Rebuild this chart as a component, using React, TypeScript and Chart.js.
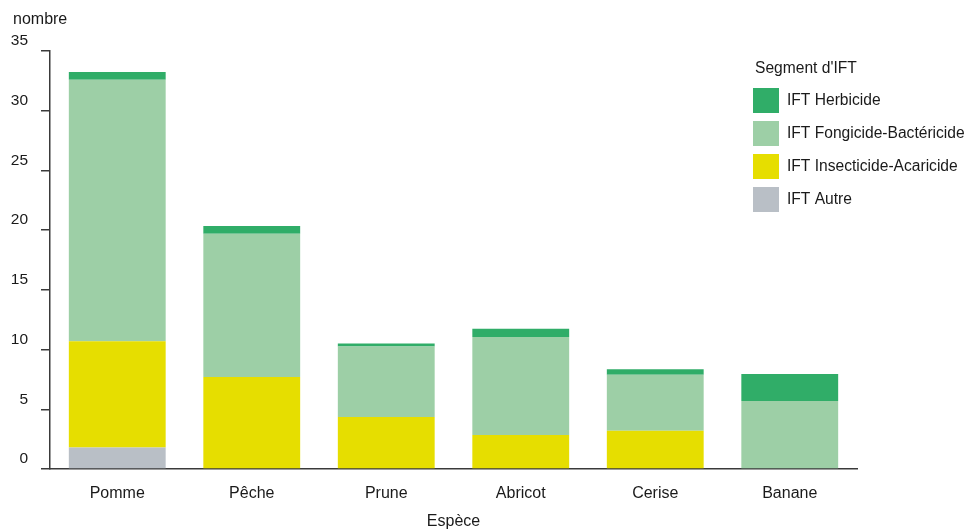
import React, { useEffect, useRef } from "react";
import { Chart, registerables } from "chart.js";

Chart.register(...registerables);

const categories = ["Pomme", "Pêche", "Prune", "Abricot", "Cerise", "Banane"];
const autre = [1.8, 0, 0, 0, 0, 0];
const insecticide = [8.9, 7.7, 4.35, 2.85, 3.2, 0];
const fongicide = [21.9, 12.0, 5.9, 8.2, 4.7, 5.7];
const herbicide = [0.65, 0.65, 0.25, 0.7, 0.45, 2.25];
const yTicks = [0, 5, 10, 15, 20, 25, 30, 35];

const legendTitle = "Segment d'IFT";
const seriesNames = {
  herbicide: "IFT Herbicide",
  fongicide: "IFT Fongicide-Bactéricide",
  insecticide: "IFT Insecticide-Acaricide",
  autre: "IFT Autre",
};
const colors = {
  herbicide: "#30ad68",
  fongicide: "#9dcfa6",
  insecticide: "#e6de00",
  autre: "#b9bfc6",
};

const FONT = "'Liberation Sans', Arial, sans-serif";
const TEXT = "#1a1a1a";

const customPlugin = {
  id: "customLegend",
  afterDraw(chart: any) {
    const ctx = chart.ctx;
    ctx.save();
    ctx.fillStyle = TEXT;
    ctx.textBaseline = "middle";
    ctx.textAlign = "left";
    ctx.font = `16px ${FONT}`;
    ctx.fillText("nombre", 13, 20);
    ctx.font = `15.6px ${FONT}`;
    ctx.fillText(legendTitle, 755, 69);
    const ds = chart.data.datasets.slice().reverse();
    ds.forEach((d: any, i: number) => {
      const y = 88 + i * 33;
      ctx.fillStyle = d.backgroundColor;
      ctx.fillRect(753, y, 26, 25);
      ctx.fillStyle = TEXT;
      ctx.fillText(d.label, 787, y + 12.5);
    });
    ctx.restore();
  },
};

export default function App() {
  const ref = useRef<HTMLCanvasElement | null>(null);
  useEffect(() => {
    if (!ref.current) return;
    const chart = new Chart(ref.current, {
      type: "bar",
      data: {
        labels: categories,
        datasets: [
          { label: seriesNames.autre, data: autre, backgroundColor: colors.autre },
          { label: seriesNames.insecticide, data: insecticide, backgroundColor: colors.insecticide },
          { label: seriesNames.fongicide, data: fongicide, backgroundColor: colors.fongicide },
          { label: seriesNames.herbicide, data: herbicide, backgroundColor: colors.herbicide },
        ],
      },
      options: {
        animation: false,
        responsive: true,
        maintainAspectRatio: false,
        layout: { padding: { top: 51, right: 111, left: 0, bottom: 0 } },
        plugins: { legend: { display: false }, tooltip: { enabled: false } },
        datasets: { bar: { categoryPercentage: 1, barPercentage: 0.72 } },
        scales: {
          x: {
            stacked: true,
            afterFit: (s: any) => { s.height = 62; },
            grid: { display: true, drawOnChartArea: false, drawTicks: false },
            border: { display: true, color: "#3a3a3a", width: 1.5 },
            ticks: { color: TEXT, font: { family: FONT, size: 16 }, padding: 15 },
            title: {
              display: true,
              text: "Espèce",
              color: TEXT,
              font: { family: FONT, size: 16 },
              padding: { top: 0, bottom: 0 },
            },
          },
          y: {
            stacked: true,
            min: 0,
            max: 35,
            afterFit: (s: any) => { s.width = 50; },
            afterBuildTicks: (s: any) => { s.ticks = yTicks.map((v) => ({ value: v })); },
            grid: { display: true, drawOnChartArea: false, drawTicks: true, tickLength: 9, color: "#3a3a3a", lineWidth: 1.5 },
            border: { display: true, color: "#3a3a3a", width: 1.5 },
            ticks: { color: TEXT, font: { family: FONT, size: 15.5 }, padding: 13, labelOffset: -10 },
          },
        },
      },
      plugins: [customPlugin],
    } as any);
    return () => chart.destroy();
  }, []);
  return (
    <div style={{ position: "fixed", left: 0, top: 0, width: 968, height: 531, background: "#fff" }}>
      <canvas ref={ref} />
    </div>
  );
}
